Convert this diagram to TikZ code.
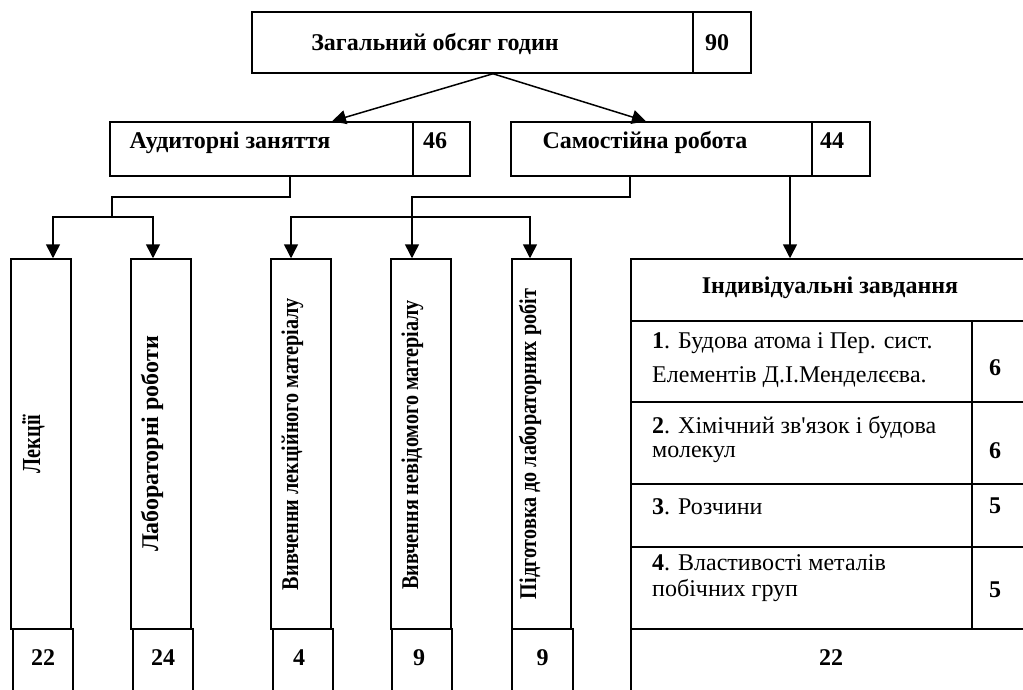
\documentclass[tikz,border=0pt]{standalone}
\usepackage{fontspec}
\usepackage{graphicx}
\setmainfont{Liberation Serif}
\usetikzlibrary{arrows.meta}

\tikzset{
  box/.style={draw, line width=1.5pt, inner sep=0pt},
  hd/.style={font=\fontsize{24}{28}\selectfont\bfseries, inner sep=0pt, anchor=base},
  vtxt/.style={hd, rotate=90},
  txt/.style={align=left, anchor=base west, inner sep=0pt},
  link/.style={line width=1.5pt},
  arr/.style={link, -{Triangle[width=14pt,length=14pt]}}
}
\newcommand{\squeeze}[1]{\scalebox{0.84}[1]{#1}}

\begin{document}
\begin{tikzpicture}[x=1pt,y=-1pt]
\useasboundingbox (0,0) rectangle (1023,689);

% top box
\node[box, minimum width=441, minimum height=61] (total) at (472.5,42.5) {};
\node[box, minimum width=58, minimum height=61] (totaln) at (722,42.5) {};
\node[hd] (totalt) at (435,50) {Загальний обсяг годин};
\node[hd] (totalv) at (717,50) {90};

% second level
\node[box, minimum width=303, minimum height=54] (aud) at (261.5,149) {};
\node[box, minimum width=57, minimum height=54] (audn) at (441.5,149) {};
\node[hd] (audt) at (230,148) {Аудиторні заняття};
\node[hd] (audv) at (435,148) {46};

\node[box, minimum width=301, minimum height=54] (sam) at (661.5,149) {};
\node[box, minimum width=58, minimum height=54] (samn) at (841,149) {};
\node[hd] (samt) at (645,148) {Самостійна робота};
\node[hd] (samv) at (832,148) {44};

% columns
\node[box, minimum width=60, minimum height=370] (lect) at (41,444) {};
\node[box, minimum width=60, minimum height=370] (lab) at (161,444) {};
\node[box, minimum width=60, minimum height=370] (vl) at (301,444) {};
\node[box, minimum width=60, minimum height=370] (vn) at (421,444) {};
\node[box, minimum width=59, minimum height=370] (pid) at (541.5,444) {};

\node[vtxt, font=\fontsize{26}{30}\selectfont\bfseries] (lectt) at (40,444)
  {\scalebox{0.78}[1]{Лекції}};
\node[vtxt] (labt) at (158,444) {Лабораторні роботи};
\node[vtxt] (vlt) at (298,444) {\squeeze{Вивченни лекційного матеріалу}};
\node[vtxt] (vnt) at (418,445) {\squeeze{Вивчення невідомого матеріалу}};
\node[vtxt] (pidt) at (536,444) {\squeeze{Підготовка до лабораторних робіт}};

% hours under the columns
\node[box, minimum width=60, minimum height=71] (lectn) at (43,664.5) {};
\node[box, minimum width=60, minimum height=71] (labn) at (163,664.5) {};
\node[box, minimum width=60, minimum height=71] (vln) at (303,664.5) {};
\node[box, minimum width=60, minimum height=71] (vnn) at (422,664.5) {};
\node[box, minimum width=61, minimum height=71] (pidn) at (542.5,664.5) {};
\node[hd] (lectv) at (43,665) {22};
\node[hd] (labv) at (163,665) {24};
\node[hd] (vlv) at (299,665) {4};
\node[hd] (vnv) at (419,665) {9};
\node[hd] (pidv) at (542.5,665) {9};

% individual tasks
\node[box, minimum width=398, minimum height=62] (ind) at (830,290) {};
\node[hd] (indt) at (830,293) {Індивідуальні завдання};
\node[box, minimum width=341, minimum height=81] (r1) at (801.5,361.5) {};
\node[box, minimum width=57, minimum height=81] (r1n) at (1000.5,361.5) {};
\node[box, minimum width=341, minimum height=82] (r2) at (801.5,443) {};
\node[box, minimum width=57, minimum height=82] (r2n) at (1000.5,443) {};
\node[box, minimum width=341, minimum height=63] (r3) at (801.5,515.5) {};
\node[box, minimum width=57, minimum height=63] (r3n) at (1000.5,515.5) {};
\node[box, minimum width=341, minimum height=82] (r4) at (801.5,588) {};
\node[box, minimum width=57, minimum height=82] (r4n) at (1000.5,588) {};
\node[box, minimum width=398, minimum height=71] (sum) at (830,664.5) {};

% base of a two-line text = baseline of its last line
\node[txt, font=\fontsize{24}{34}\selectfont] (r1t) at (652,382)
  {\textbf{1}. Будова атома і Пер. сист.\\Елементів Д.І.Менделєєва.};
\node[txt, font=\fontsize{24}{24}\selectfont] (r2t) at (652,457)
  {\textbf{2}. Хімічний зв\textquotesingle язок і будова\\молекул};
\node[txt, font=\fontsize{24}{26}\selectfont] (r3t) at (652,514)
  {\textbf{3}. Розчини};
\node[txt, font=\fontsize{24}{26}\selectfont] (r4t) at (652,596)
  {\textbf{4}. Властивості металів\\побічних груп};
\node[hd] (r1v) at (995,375) {6};
\node[hd] (r2v) at (995,458) {6};
\node[hd] (r3v) at (995,513) {5};
\node[hd] (r4v) at (995,597) {5};
\node[hd] (sumv) at (831,665) {22};

% connectors
\draw[arr] ([xshift=20.5]total.south) -- ([xshift=70.5]aud.north);
\draw[arr] ([xshift=20.5]total.south) -- ([xshift=-15.5]sam.north);

\coordinate (audj) at (112,217);
\draw[link] ([xshift=28.5]aud.south) |- (112,197) -- (audj);
\draw[arr] (audj) -| ([xshift=12]lect.north);
\draw[arr] (audj) -| ([xshift=-8]lab.north);

\coordinate (samj) at (412,217);
\draw[link] ([xshift=-31.5]sam.south) |- (412,197) -- (samj);
\draw[arr] (samj) -| ([xshift=-10]vl.north);
\draw[arr] (samj) -- ([xshift=-9]vn.north);
\draw[arr] (samj) -| ([xshift=-11.5]pid.north);
\draw[arr] ([xshift=128.5]sam.south) -- ([xshift=-40]ind.north);

\end{tikzpicture}
\end{document}
